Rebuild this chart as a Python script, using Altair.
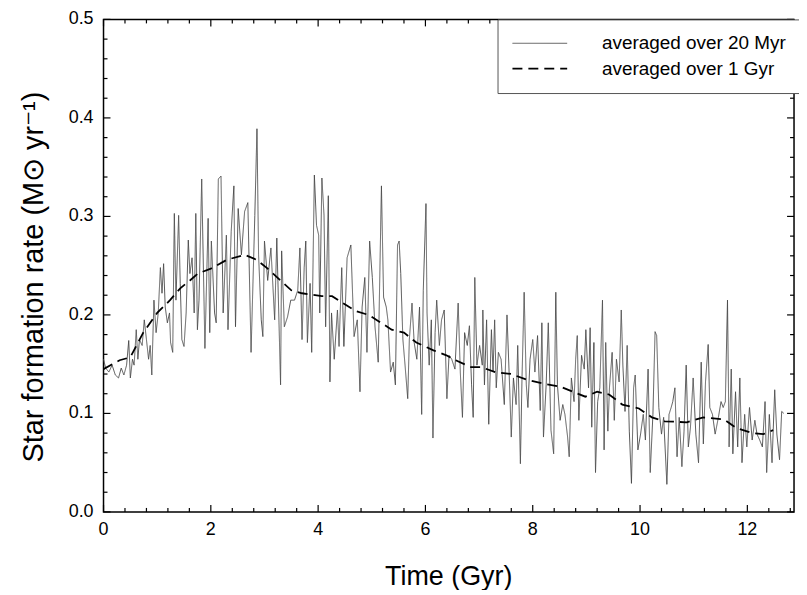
import altair as alt
import pandas as pd

S20 = "averaged over 20 Myr"
S1G = "averaged over 1 Gyr"
XTITLE = "Time (Gyr)"
YTITLE = "Star formation rate (M⊙ yr⁻¹)"

# SFR averaged over 20 Myr (time in Gyr, SFR in Msun/yr)
t20 = [0.00, 0.04, 0.10, 0.16, 0.22, 0.28, 0.33, 0.38, 0.43, 0.47, 0.50, 0.54, 0.57, 0.61, 0.64, 0.67,
       0.72, 0.76, 0.80, 0.84, 0.87, 0.90, 0.94, 0.98, 1.02, 1.06, 1.09, 1.12, 1.15, 1.19, 1.23, 1.25,
       1.29, 1.32, 1.35, 1.40, 1.43, 1.46, 1.50, 1.54, 1.58, 1.61, 1.65, 1.69, 1.72, 1.75, 1.78,
       1.83, 1.89, 1.95, 1.98, 2.01, 2.07, 2.10, 2.14, 2.19, 2.23, 2.29, 2.32, 2.38, 2.43, 2.46, 2.51,
       2.57, 2.63, 2.69, 2.75, 2.82, 2.86, 2.89, 2.94, 2.97, 3.00, 3.06, 3.12, 3.19, 3.23, 3.28, 3.30,
       3.32, 3.37, 3.43, 3.49,
       3.56, 3.62, 3.66, 3.70, 3.74, 3.77, 3.80, 3.85, 3.88, 3.93, 3.97, 4.01, 4.03, 4.07, 4.11, 4.14,
       4.19, 4.22, 4.25, 4.30, 4.36, 4.39, 4.44, 4.48, 4.54, 4.61, 4.67, 4.73, 4.78, 4.82, 4.87, 4.91,
       4.96, 5.01, 5.06, 5.12, 5.18, 5.22, 5.27, 5.30,
       5.35, 5.40, 5.44, 5.48, 5.51, 5.54, 5.58, 5.62, 5.67, 5.70, 5.75, 5.79, 5.84, 5.89, 5.93, 5.96,
       6.01, 6.03, 6.07, 6.11, 6.14, 6.18, 6.21, 6.26, 6.30, 6.35, 6.40, 6.44, 6.49, 6.55, 6.61, 6.65,
       6.69, 6.73, 6.78, 6.82, 6.86, 6.89, 6.92, 6.96, 7.01, 7.06,
       7.07, 7.10, 7.14, 7.18, 7.23, 7.26, 7.29, 7.32, 7.36, 7.41, 7.47, 7.52, 7.57, 7.60, 7.64, 7.69,
       7.72, 7.77, 7.80, 7.84, 7.88, 7.91, 7.95, 8.00, 8.04, 8.09, 8.14, 8.17, 8.20, 8.25, 8.29, 8.34,
       8.39, 8.43, 8.46, 8.51, 8.56, 8.60, 8.65, 8.68, 8.72, 8.77, 8.80,
       8.83, 8.86, 8.91, 8.96, 8.99, 9.04, 9.07, 9.10, 9.14, 9.17, 9.21, 9.25, 9.30, 9.33, 9.36, 9.40,
       9.43, 9.48, 9.52, 9.56, 9.61, 9.65, 9.68, 9.72, 9.76, 9.80, 9.84, 9.88, 9.91, 9.96, 10.01, 10.06,
       10.10, 10.15, 10.19, 10.24, 10.28, 10.31, 10.35, 10.40, 10.44, 10.50, 10.54, 10.58,
       10.61, 10.65, 10.69, 10.73, 10.78, 10.82, 10.86, 10.90, 10.94, 10.99, 11.04, 11.09, 11.14, 11.18,
       11.22, 11.27, 11.30, 11.35, 11.40, 11.46, 11.51, 11.55, 11.59, 11.63, 11.66, 11.70, 11.73, 11.78,
       11.82, 11.86, 11.90, 11.95, 11.99, 12.04, 12.09, 12.14, 12.18, 12.23, 12.28, 12.33, 12.36, 12.41,
       12.46, 12.51, 12.55, 12.60, 12.64, 12.68]
sfr20 = [0.155, 0.146, 0.142, 0.149, 0.139, 0.136, 0.146, 0.139, 0.149, 0.174, 0.136, 0.155, 0.149, 0.185, 0.155, 0.175,
         0.169, 0.195, 0.175, 0.155, 0.169, 0.139, 0.215, 0.182, 0.202, 0.248, 0.222, 0.252, 0.208, 0.192, 0.202, 0.172,
         0.162, 0.303, 0.215, 0.301, 0.232, 0.175, 0.168, 0.202, 0.276, 0.242, 0.258, 0.202, 0.303, 0.185, 0.215,
         0.338, 0.166, 0.298, 0.182, 0.275, 0.202, 0.192, 0.338, 0.341, 0.202, 0.281, 0.185, 0.285, 0.331, 0.188, 0.308,
         0.261, 0.305, 0.314, 0.162, 0.301, 0.389, 0.261, 0.195, 0.178, 0.275, 0.235, 0.268, 0.195, 0.278, 0.172, 0.129,
         0.265, 0.188, 0.198, 0.215,
         0.215, 0.225, 0.268, 0.175, 0.248, 0.275, 0.172, 0.232, 0.162, 0.342, 0.291, 0.281, 0.202, 0.339, 0.301, 0.188,
         0.321, 0.132, 0.202, 0.155, 0.205, 0.168, 0.248, 0.168, 0.258, 0.271, 0.178, 0.195, 0.122, 0.208, 0.238, 0.162,
         0.275, 0.238, 0.188, 0.152, 0.331, 0.218, 0.208, 0.195,
         0.142, 0.152, 0.129, 0.271, 0.275, 0.242, 0.175, 0.149, 0.115, 0.175, 0.212, 0.172, 0.155, 0.208, 0.099, 0.225,
         0.313, 0.202, 0.149, 0.195, 0.075, 0.182, 0.215, 0.169, 0.195, 0.205, 0.115, 0.159, 0.155, 0.145, 0.212, 0.142,
         0.096, 0.182, 0.169, 0.189, 0.129, 0.096, 0.238, 0.149, 0.169, 0.149,
         0.205, 0.129, 0.195, 0.089, 0.185, 0.142, 0.195, 0.126, 0.162, 0.155, 0.109, 0.200, 0.126, 0.076, 0.136, 0.109,
         0.169, 0.049, 0.136, 0.223, 0.129, 0.106, 0.155, 0.175, 0.142, 0.179, 0.103, 0.192, 0.076, 0.129, 0.192, 0.083,
         0.059, 0.223, 0.129, 0.093, 0.109, 0.099, 0.076, 0.056, 0.136, 0.112, 0.155,
         0.179, 0.093, 0.159, 0.145, 0.185, 0.126, 0.187, 0.086, 0.172, 0.040, 0.112, 0.126, 0.215, 0.063, 0.172, 0.082,
         0.126, 0.162, 0.093, 0.155, 0.132, 0.205, 0.149, 0.102, 0.169, 0.082, 0.029, 0.126, 0.139, 0.063, 0.079, 0.099,
         0.073, 0.145, 0.040, 0.099, 0.183, 0.179, 0.106, 0.079, 0.096, 0.028, 0.099, 0.106,
         0.112, 0.126, 0.056, 0.096, 0.046, 0.082, 0.149, 0.066, 0.086, 0.136, 0.079, 0.050, 0.152, 0.069,
         0.132, 0.170, 0.106, 0.099, 0.079, 0.096, 0.112, 0.106, 0.112, 0.215, 0.066, 0.145, 0.059, 0.122,
         0.066, 0.136, 0.050, 0.099, 0.066, 0.106, 0.073, 0.093, 0.079, 0.073, 0.066, 0.112, 0.040, 0.099,
         0.050, 0.124, 0.079, 0.053, 0.102, 0.100]

# SFR averaged over 1 Gyr
t1g = [0.0, 0.3, 0.5, 0.74, 1.0, 1.24, 1.43, 1.61, 1.76, 2.0, 2.3, 2.63, 2.85, 3.06, 3.3, 3.5, 3.7,
       4.07, 4.26, 4.52, 4.7, 4.94, 5.26, 5.37, 5.6, 5.83, 6.15, 6.39, 6.52, 6.85, 7.04, 7.3, 7.6,
       7.9, 8.22, 8.52, 8.75, 8.98, 9.2, 9.43, 9.67, 9.98, 10.22, 10.46, 10.87, 11.18, 11.56, 11.8,
       12.1, 12.3, 12.48]
sfr1g = [0.145, 0.154, 0.157, 0.182, 0.202, 0.215, 0.227, 0.235, 0.242, 0.247, 0.256, 0.261, 0.256,
         0.247, 0.235, 0.225, 0.222, 0.219, 0.219, 0.210, 0.204, 0.200, 0.189, 0.185, 0.182, 0.172,
         0.164, 0.159, 0.155, 0.147, 0.147, 0.142, 0.140, 0.134, 0.130, 0.127, 0.122, 0.117, 0.122,
         0.119, 0.109, 0.105, 0.096, 0.092, 0.091, 0.096, 0.094, 0.085, 0.080, 0.079, 0.083]

x_major = [0, 2, 4, 6, 8, 10, 12]
x_minor = [0.4, 0.8, 1.2, 1.6, 2.4, 2.8, 3.2, 3.6, 4.4, 4.8, 5.2, 5.6, 6.4, 6.8, 7.2, 7.6,
           8.4, 8.8, 9.2, 9.6, 10.4, 10.8, 11.2, 11.6, 12.4, 12.8]
y_major = [0.0, 0.1, 0.2, 0.3, 0.4, 0.5]
y_minor = [0.02, 0.04, 0.06, 0.08, 0.12, 0.14, 0.16, 0.18, 0.22, 0.24, 0.26, 0.28,
           0.32, 0.34, 0.36, 0.38, 0.42, 0.44, 0.46, 0.48]

df = pd.concat([
    pd.DataFrame({"t": t20, "v": sfr20, "series": S20}),
    pd.DataFrame({"t": t1g, "v": sfr1g, "series": S1G}),
], ignore_index=True)

W, H = 694, 495
FONT = "Liberation Sans, Arial, sans-serif"
xs = alt.Scale(domain=[0, 12.87], nice=False, zero=False)
ys = alt.Scale(domain=[0, 0.5], nice=False)

legend = alt.Legend(
    title=None, orient="none", legendX=396, legendY=0,
    symbolType="M-3,0H3", symbolSize=336, symbolOffset=18,
    labelFontSize=19, labelFont=FONT, labelColor="black", labelOffset=52, labelLimit=400,
    padding=14, rowPadding=5, strokeColor="#555", fillColor="white", cornerRadius=0,
)
dom = [S20, S1G]

main = alt.Chart(df).mark_line().encode(
    x=alt.X("t:Q", scale=xs, axis=None),
    y=alt.Y("v:Q", scale=ys, axis=None),
    color=alt.Color("series:N", scale=alt.Scale(domain=dom, range=["#444444", "black"]), legend=legend),
    strokeDash=alt.StrokeDash("series:N", scale=alt.Scale(domain=dom, range=[[1, 0], [10, 6]]), legend=legend),
    strokeWidth=alt.StrokeWidth("series:N", scale=alt.Scale(domain=dom, range=[0.9, 1.8]), legend=legend),
)

# Inward frame ticks (major and minor) on all four sides, placed through the shared scales
def xticks(vals, y0, y1):
    return alt.Chart(pd.DataFrame({"x": vals})).mark_rule(color="black", strokeWidth=1.2).encode(
        x=alt.X("x:Q", scale=xs, axis=None), y=alt.value(y0), y2=alt.value(y1))

def yticks(vals, x0, x1):
    return alt.Chart(pd.DataFrame({"y": vals})).mark_rule(color="black", strokeWidth=1.2).encode(
        y=alt.Y("y:Q", scale=ys, axis=None), x=alt.value(x0), x2=alt.value(x1))

ticks = [
    xticks(x_major, H, H - 7), xticks(x_minor, H, H - 4),
    xticks(x_major, 0, 7), xticks(x_minor, 0, 4),
    yticks(y_major, 0, 7), yticks(y_minor, 0, 4),
    yticks(y_major, W, W - 7), yticks(y_minor, W, W - 4),
]

# Tick labels and axis titles
xlab = alt.Chart(pd.DataFrame({"x": x_major})).mark_text(
    font=FONT, fontSize=18, color="black", baseline="top", align="center").encode(
    x=alt.X("x:Q", scale=xs, axis=None), y=alt.value(H + 9), text=alt.Text("x:Q", format="d"))
ylab = alt.Chart(pd.DataFrame({"y": y_major})).mark_text(
    font=FONT, fontSize=18, color="black", baseline="middle", align="right").encode(
    y=alt.Y("y:Q", scale=ys, axis=None), x=alt.value(-10), text=alt.Text("y:Q", format=".1f"))
xtitle = alt.Chart(pd.DataFrame({"label": [XTITLE]})).mark_text(
    font=FONT, fontSize=27, color="black", baseline="alphabetic", align="center").encode(
    x=alt.value(W / 2), y=alt.value(H + 73), text="label:N")
ytitle = alt.Chart(pd.DataFrame({"label": [YTITLE]})).mark_text(
    font=FONT, fontSize=29, color="black", baseline="alphabetic", align="center", angle=270).encode(
    x=alt.value(-61), y=alt.value(259), text="label:N")

chart = alt.layer(main, *ticks, xlab, ylab, xtitle, ytitle).properties(
    width=W, height=H, autosize=alt.AutoSizeParams(type="none"),
    padding={"left": 96, "top": 10, "right": 5, "bottom": 77},
    background="white",
).configure_view(stroke="black", strokeWidth=1.5)

chart.save("out.html", embed_options={"renderer": "svg", "actions": False})
